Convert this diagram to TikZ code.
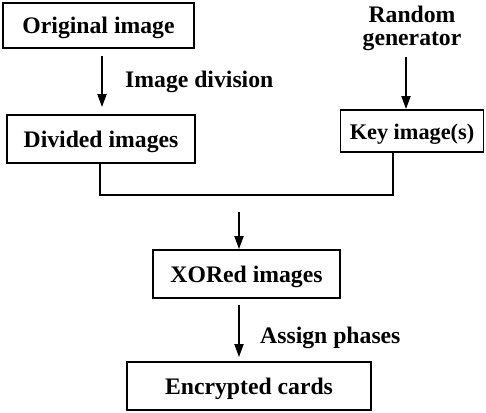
\documentclass[tikz,border=0pt]{standalone}
\usepackage{fontspec}
\setmainfont{Liberation Serif}
\usetikzlibrary{arrows.meta,calc}
\begin{document}
\begin{tikzpicture}[x=1pt,y=-1pt,
  box/.style={draw,line width=1.8pt,inner sep=0pt,text height=16pt,text depth=0pt,font=\fontsize{23.7}{26}\selectfont\bfseries},
  lbl/.style={font=\fontsize{23.7}{23}\selectfont\bfseries,inner sep=0pt},
  arr/.style={line width=1.8pt,-{Triangle[length=13pt,width=9pt]}},
  ln/.style={line width=1.8pt}]
\useasboundingbox (0,0) rectangle (486,412);
\node[box,minimum width=191pt,minimum height=45pt] (orig) at (98.5,25.5) {Original image};
\node[box,minimum width=188pt,minimum height=48pt] (div) at (101,139) {Divided images};
\node[box,minimum width=143pt,minimum height=42pt,font=\fontsize{22.3}{26}\selectfont\bfseries] (key) at (412,131) {Key image(s)};
\node[box,minimum width=187pt,minimum height=48pt] (xor) at (246.5,274) {XORed images};
\node[box,minimum width=244pt,minimum height=48pt] (enc) at (249,386) {Encrypted cards};
\node[lbl,align=center,anchor=north] (rnd) at (412,6) {Random\\generator};
\node[lbl,anchor=base west] (idiv) at (125,87) {Image division};
\node[lbl,anchor=base west] (asg) at (260,343) {Assign phases};
\coordinate (jl) at (100,195);
\coordinate (jr) at (393,195);
\coordinate (jm) at (239,212);
\coordinate (ra) at (406,0);
\draw[arr,shorten <=7pt,shorten >=7pt] ([xshift=3.5pt]orig.south) -- ([xshift=1pt]div.north);
\draw[arr,shorten <=6pt] (rnd.south -| ra) -- (key.north -| ra);
\draw[ln] (div.south -| jl) -- (jl) -- (jr) -- (key.south -| jr);
\draw[arr] (jm) -- (xor.north -| jm);
\draw[arr,shorten <=6pt,shorten >=4pt] (xor.south -| jm) -- (enc.north -| jm);
\end{tikzpicture}
\end{document}
